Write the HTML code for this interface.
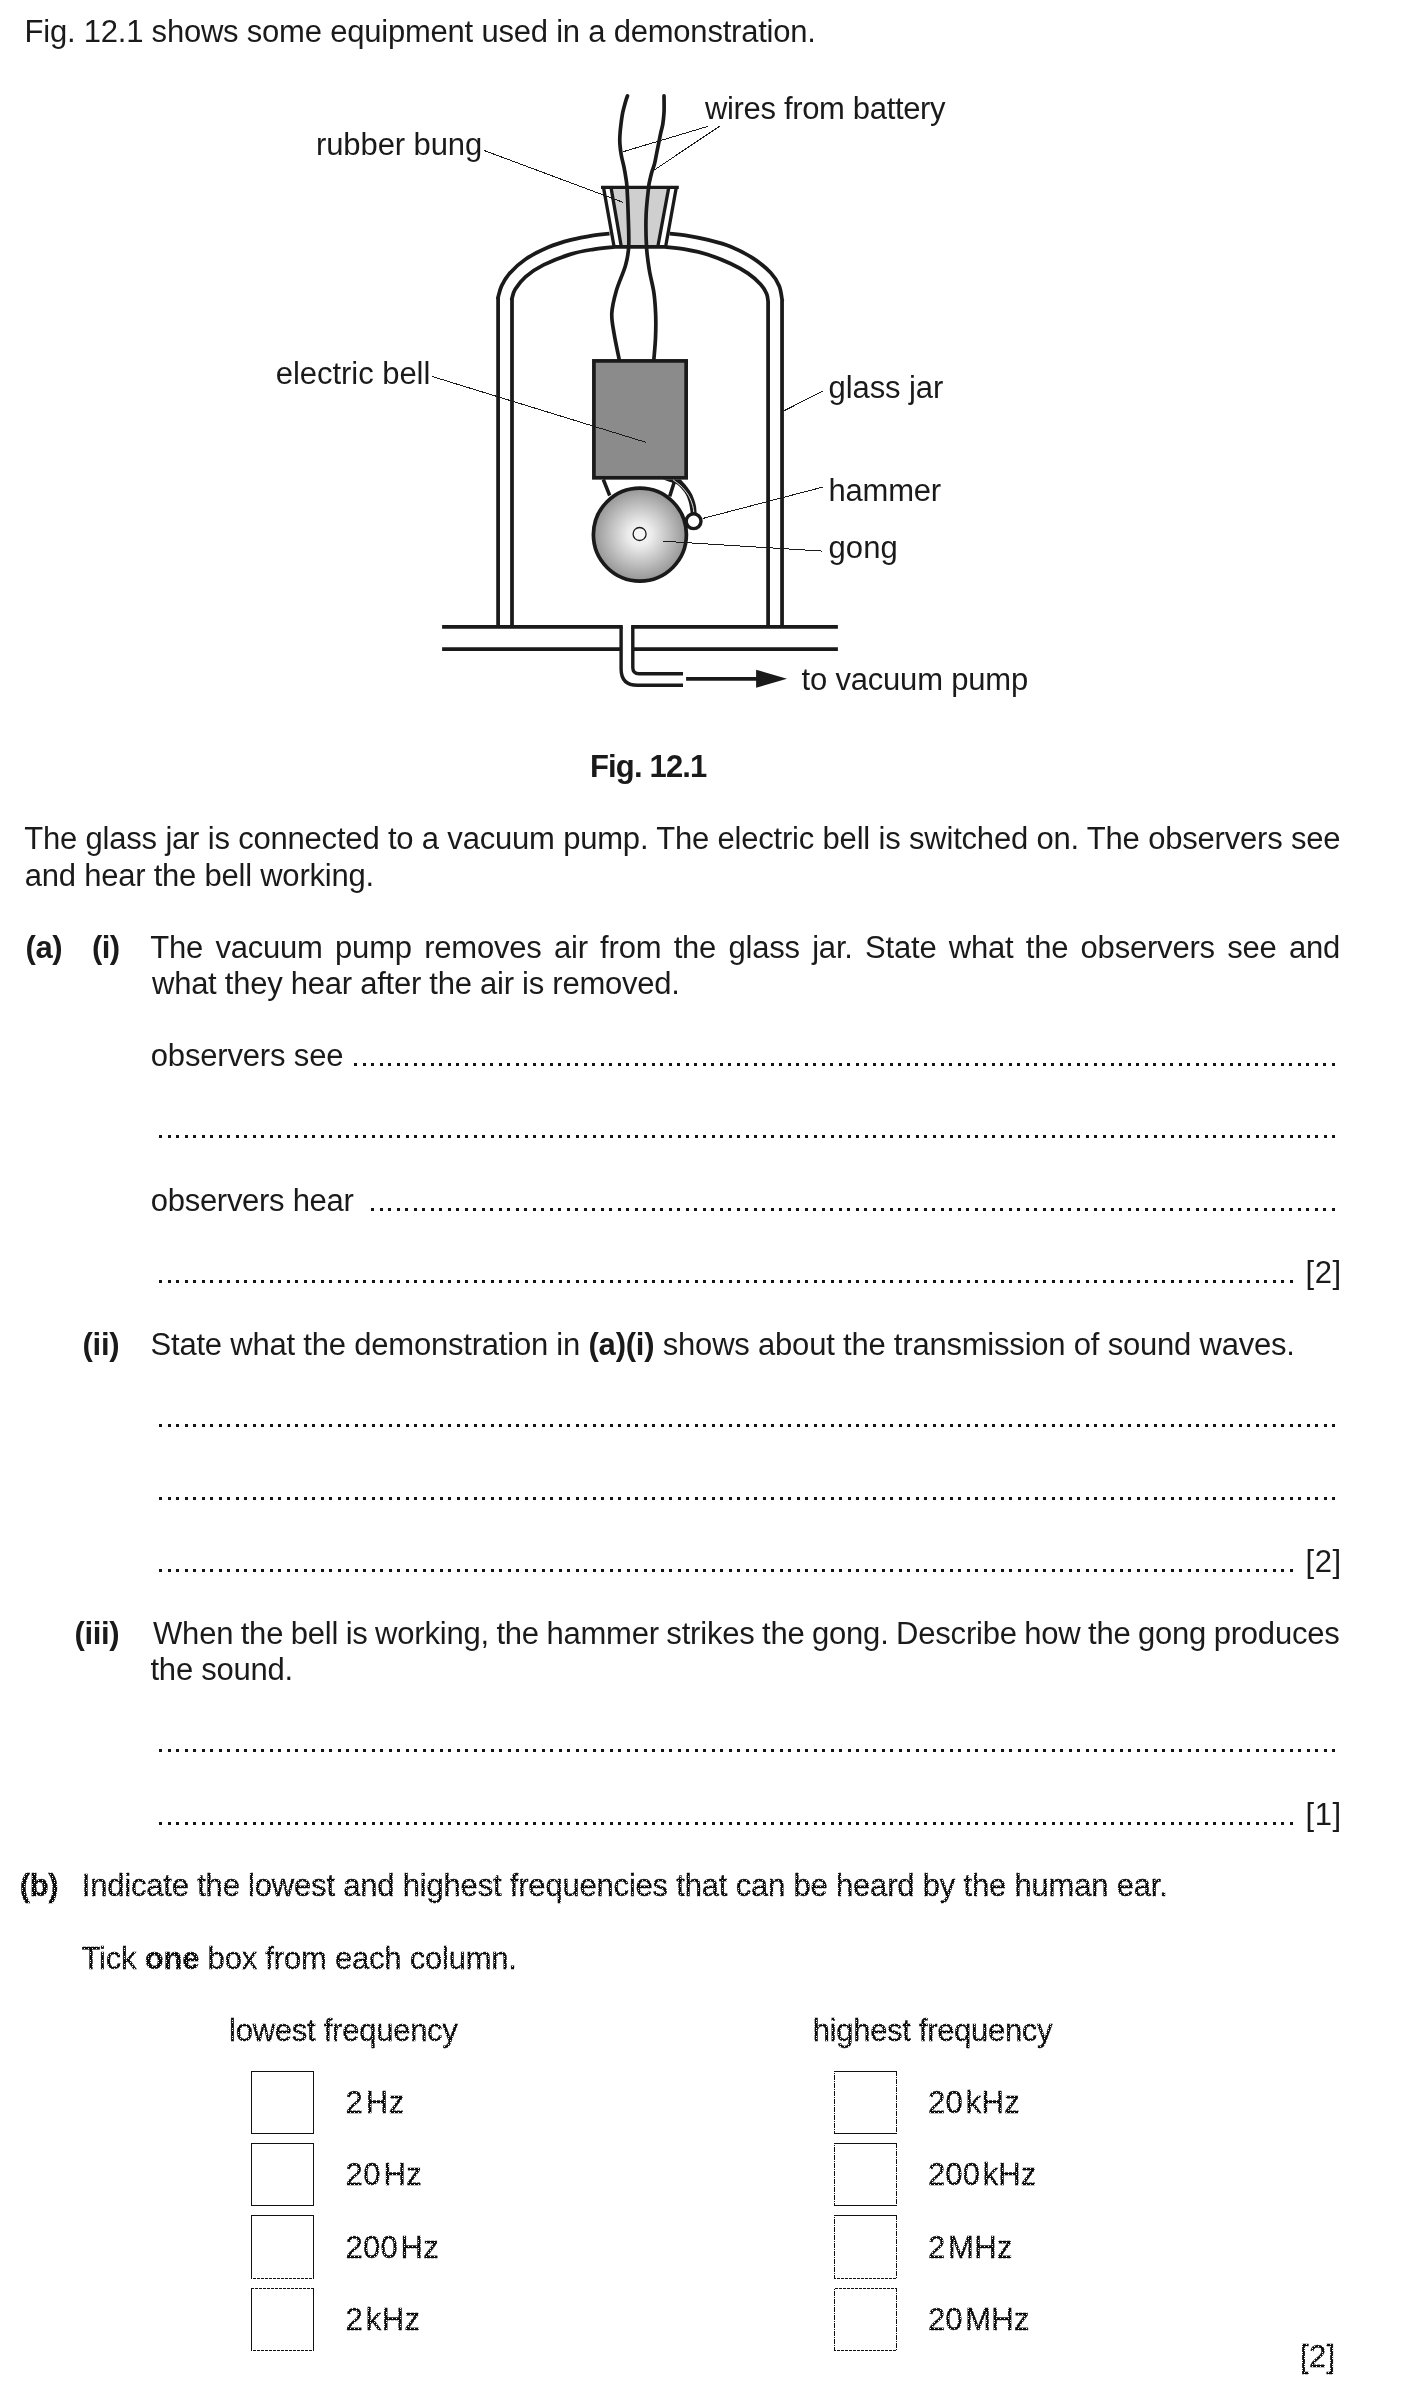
<!DOCTYPE html>
<html><head><meta charset="utf-8"><title>Fig. 12.1</title>
<style>
html,body{margin:0;padding:0;background:#fff;}
body{width:1408px;height:2391px;position:relative;overflow:hidden;font-family:"Liberation Sans",sans-serif;color:#1a1a1a;}
.l{position:absolute;white-space:pre;font-size:31px;line-height:36.0px;height:36.0px;margin:0;}
#txt{position:absolute;left:0;top:0;width:1408px;height:2391px;will-change:transform;}
.b,b{font-weight:bold;}
.g{color:#0d0d0d;-webkit-text-stroke:0.35px #0d0d0d;}
.ts{display:inline-block;width:2.6px;}
svg{position:absolute;left:0;top:0;}
.dl{position:absolute;height:3px;background:linear-gradient(90deg,#141414 0 3px,transparent 3px 9px,#141414 9px 12px,transparent 12px 17px);background-size:17px 3px;}
.bx{position:absolute;}
.bx i{position:absolute;display:block;}
.hs{left:0;width:100%;height:1px;background:#111;}
.vs{top:0;height:100%;width:1px;background:#111;}

</style></head><body>
<svg width="1408" height="760" viewBox="0 0 1408 760">
<defs><radialGradient id="gg" cx="50%" cy="50%" r="50%"><stop offset="0" stop-color="#fbfbfb"/><stop offset="0.25" stop-color="#ececec"/><stop offset="0.6" stop-color="#c4c4c4"/><stop offset="1" stop-color="#959595"/></radialGradient></defs>
<polygon points="611,187.4 668.8,187.4 657.8,246.7 621.3,246.7" fill="#cfcfcf"/>
<path d="M498.10,626.90 L498.10,297.30 C498.10,297.30 497.52,299.20 498.10,297.30 C498.68,295.40 499.70,289.88 501.60,285.90 C503.50,281.92 505.52,277.85 509.50,273.40 C513.48,268.95 519.05,263.55 525.50,259.20 C531.95,254.85 540.63,250.52 548.20,247.30 C555.77,244.08 563.33,241.90 570.90,239.90 C578.47,237.90 587.17,236.35 593.60,235.30 C600.03,234.25 606.85,233.88 609.50,233.60" fill="none" stroke="#1a1a1a" stroke-width="3.75"/>
<path d="M512.00,626.90 L512.00,298.40 C512.00,298.40 511.47,299.92 512.00,298.40 C512.53,296.88 512.95,292.90 515.20,289.30 C517.45,285.70 520.77,280.87 525.50,276.80 C530.23,272.73 536.03,268.68 543.60,264.90 C551.17,261.12 562.57,256.70 570.90,254.10 C579.23,251.50 586.40,250.50 593.60,249.30 C600.80,248.10 610.68,247.30 614.10,246.90" fill="none" stroke="#1a1a1a" stroke-width="3.75"/>
<path d="M782.05,626.90 L782.05,299.50 C782.05,299.50 782.52,301.77 782.05,299.50 C781.57,297.23 781.09,290.35 779.20,285.90 C777.31,281.45 774.97,277.35 770.70,272.80 C766.43,268.25 760.23,262.95 753.60,258.60 C746.97,254.25 738.47,249.82 730.90,246.70 C723.33,243.58 715.77,241.80 708.20,239.90 C700.63,238.00 691.93,236.35 685.50,235.30 C679.07,234.25 672.25,233.88 669.60,233.60" fill="none" stroke="#1a1a1a" stroke-width="3.75"/>
<path d="M768.10,626.90 L768.10,301.80 C768.10,301.80 768.33,303.12 768.10,301.80 C767.87,300.48 767.97,296.83 766.70,293.90 C765.43,290.97 763.62,287.62 760.50,284.20 C757.38,280.78 752.93,276.80 748.00,273.40 C743.07,270.00 737.53,266.92 730.90,263.80 C724.27,260.68 715.77,257.12 708.20,254.70 C700.63,252.28 692.60,250.60 685.50,249.30 C678.40,248.00 668.92,247.30 665.60,246.90" fill="none" stroke="#1a1a1a" stroke-width="3.75"/>
<path d="M613,246.9 L667,246.9" fill="none" stroke="#1a1a1a" stroke-width="3.7"/>
<path d="M601,187.4 L678.8,187.4 M603.5,187.4 L614.1,246.7 M611,187.4 L621.3,246.7 M668.8,187.4 L657.8,246.7 M676.3,187.4 L665.6,246.7" fill="none" stroke="#1a1a1a" stroke-width="3.3"/>
<path d="M627.50,95.90 C627.18,96.82 626.40,98.60 625.60,101.40 C624.80,104.20 623.47,108.92 622.70,112.70 C621.93,116.48 621.47,120.30 621.00,124.10 C620.53,127.90 620.08,132.18 619.90,135.50 C619.72,138.82 619.67,140.70 619.90,144.00 C620.13,147.30 620.63,151.52 621.30,155.30 C621.97,159.08 623.13,162.90 623.90,166.70 C624.67,170.50 625.38,174.65 625.90,178.10 C626.42,181.55 626.62,181.25 627.00,187.40 C627.38,193.55 627.92,205.12 628.20,215.00 C628.48,224.88 629.15,238.28 628.70,246.70 C628.25,255.12 627.55,258.20 625.50,265.50 C623.45,272.80 618.68,282.55 616.40,290.50 C614.12,298.45 612.18,306.02 611.80,313.20 C611.42,320.38 612.88,325.97 614.10,333.60 C615.32,341.23 618.27,354.77 619.10,359.00" fill="none" stroke="#1a1a1a" stroke-width="3.7" stroke-linecap="round"/>
<path d="M664.00,95.90 C664.02,97.08 664.10,100.20 664.10,103.00 C664.10,105.80 664.22,109.18 664.00,112.70 C663.78,116.22 663.33,120.78 662.80,124.10 C662.27,127.42 661.42,129.77 660.80,132.60 C660.18,135.43 659.77,137.78 659.10,141.10 C658.43,144.42 657.57,148.70 656.80,152.50 C656.03,156.30 655.35,160.58 654.50,163.90 C653.65,167.22 652.50,169.57 651.70,172.40 C650.90,175.23 650.22,178.40 649.70,180.90 C649.18,183.40 649.20,181.72 648.60,187.40 C648.00,193.08 646.45,205.12 646.10,215.00 C645.75,224.88 645.97,237.53 646.50,246.70 C647.03,255.87 648.07,262.33 649.30,270.00 C650.53,277.67 652.83,285.12 653.90,292.70 C654.97,300.28 655.43,307.92 655.70,315.50 C655.97,323.08 655.80,330.95 655.50,338.20 C655.20,345.45 654.17,355.53 653.90,359.00" fill="none" stroke="#1a1a1a" stroke-width="3.7" stroke-linecap="round"/>
<rect x="593.9" y="360.9" width="92.25" height="116.9" fill="#8b8b8b" stroke="#1a1a1a" stroke-width="3.7"/>
<path d="M603.3,479.5 L609.7,495.5 M674.6,481 L669.7,496.4" fill="none" stroke="#1a1a1a" stroke-width="3.5"/>
<path d="M680.80,479.50 C681.88,480.73 685.38,484.35 687.30,486.90 C689.22,489.45 690.90,491.82 692.30,494.80 C693.70,497.78 694.97,501.68 695.70,504.80 C696.43,507.92 696.53,512.05 696.70,513.50 L690.80,513.50 C690.47,511.63 689.80,505.75 688.80,502.30 C687.80,498.85 686.63,495.70 684.80,492.80 C682.97,489.90 679.87,486.58 677.80,484.90 C675.73,483.22 674.88,483.60 672.40,482.70 C669.92,481.80 664.48,480.03 662.90,479.50 Z" fill="#1a1a1a"/>
<path d="M673.10,479.90 C673.88,480.48 676.27,482.15 677.80,483.40 C679.33,484.65 680.80,485.83 682.30,487.40 C683.80,488.97 685.55,491.07 686.80,492.80 C688.05,494.53 688.97,496.13 689.80,497.80 C690.63,499.47 691.22,501.05 691.80,502.80 C692.38,504.55 692.97,506.60 693.30,508.30 C693.63,510.00 693.72,512.22 693.80,513.00" fill="none" stroke="#fff" stroke-width="0.9" />
<circle cx="639.9" cy="534.6" r="46.5" fill="url(#gg)" stroke="#1a1a1a" stroke-width="3.7"/>
<circle cx="639.6" cy="534" r="6.5" fill="#f6f6f6" stroke="#1a1a1a" stroke-width="1.3"/>
<circle cx="693.6" cy="521.2" r="7.4" fill="#fff" stroke="#1a1a1a" stroke-width="3.4"/>
<path d="M442.1,626.9 L622.8,626.9 M631.1,626.9 L837.9,626.9 M442.1,649 L621.1,649 M632.8,649 L837.9,649" fill="none" stroke="#1a1a1a" stroke-width="3.75"/>
<path d="M621.1,626.9 L621.1,669 Q621.1,685.3 637.5,685.3 L683,685.3 M632.8,626.9 L632.8,667.5 Q632.8,673.75 639,673.75 L683,673.75" fill="none" stroke="#1a1a1a" stroke-width="3.4"/>
<path d="M686.1,678.9 L760,678.9" stroke="#1a1a1a" stroke-width="3.7" fill="none"/>
<polygon points="756.1,669.8 787,678.75 756.1,687.7" fill="#1a1a1a"/>
<path d="M708.4,126.2 L623.2,151.7 M719.8,126.2 L654.5,169.8 M484.4,150.6 L623,202.3 M431.9,376.4 L645.8,442.3 M822.5,391.2 L783.6,411 M822.5,487.2 L702.6,518.5 M822.5,551.1 L662.8,541.2" fill="none" stroke="#1a1a1a" stroke-width="1" shape-rendering="crispEdges"/>
</svg>
<div id="txt">
<div class="l " id="t1" style="left:24.50px;top:14.00px;letter-spacing:-0.214px;">Fig. 12.1 shows some equipment used in a demonstration.</div>
<div class="l b" id="cap" style="left:590.00px;top:749.00px;letter-spacing:-0.844px;">Fig. 12.1</div>
<div class="l " id="p1" style="left:24.25px;top:821.00px;word-spacing:0.059px;letter-spacing:-0.2px;">The glass jar is connected to a vacuum pump. The electric bell is switched on. The observers see</div>
<div class="l " id="p2" style="left:24.75px;top:858.00px;letter-spacing:-0.228px;">and hear the bell working.</div>
<div class="l b" id="a" style="left:25.50px;top:930.00px;letter-spacing:-0.375px;">(a)</div>
<div class="l b" id="ai" style="left:92.00px;top:930.00px;letter-spacing:-0.625px;">(i)</div>
<div class="l " id="q1" style="left:150.25px;top:930.00px;word-spacing:3.914px;letter-spacing:-0.2px;">The vacuum pump removes air from the glass jar. State what the observers see and</div>
<div class="l " id="q2" style="left:152.00px;top:966.00px;letter-spacing:-0.250px;">what they hear after the air is removed.</div>
<div class="l " id="os" style="left:150.75px;top:1038.00px;letter-spacing:-0.167px;">observers see</div>
<div class="l " id="oh" style="left:150.75px;top:1183.00px;letter-spacing:-0.281px;">observers hear</div>
<div class="l " id="m1" style="left:1305.55px;top:1255.00px;letter-spacing:0.525px;">[2]</div>
<div class="l b" id="ii" style="left:82.50px;top:1327.00px;letter-spacing:-0.250px;">(ii)</div>
<div class="l " id="q3" style="left:150.50px;top:1327.00px;letter-spacing:-0.207px;">State what the demonstration in <b>(a)(i)</b> shows about the transmission of sound waves.</div>
<div class="l " id="m2" style="left:1305.55px;top:1544.00px;letter-spacing:0.525px;">[2]</div>
<div class="l b" id="iii" style="left:74.50px;top:1616.00px;letter-spacing:-0.375px;">(iii)</div>
<div class="l " id="q4" style="left:153.05px;top:1616.00px;word-spacing:-0.929px;letter-spacing:-0.2px;">When the bell is working, the hammer strikes the gong. Describe how the gong produces</div>
<div class="l " id="q5" style="left:150.50px;top:1652.00px;letter-spacing:-0.239px;">the sound.</div>
<div class="l " id="m3" style="left:1305.55px;top:1797.00px;letter-spacing:0.525px;">[1]</div>
<div class="l b g" id="b" style="left:19.75px;top:1868.00px;letter-spacing:-0.375px;">(b)</div>
<div class="l g" id="q6" style="left:81.75px;top:1868.00px;letter-spacing:-0.195px;">Indicate the lowest and highest frequencies that can be heard by the human ear.</div>
<div class="l g" id="q7" style="left:81.50px;top:1941.00px;letter-spacing:-0.212px;">Tick <b>one</b> box from each column.</div>
<div class="l g" id="lf" style="left:229.00px;top:2013.00px;letter-spacing:-0.250px;">lowest frequency</div>
<div class="l g" id="hf" style="left:812.80px;top:2013.00px;letter-spacing:-0.312px;">highest frequency</div>
<div class="l g" id="f1" style="left:345.50px;top:2085.00px;letter-spacing:0.500px;">2<span class="ts"></span>Hz</div>
<div class="l g" id="f2" style="left:345.50px;top:2157.00px;letter-spacing:0.417px;">20<span class="ts"></span>Hz</div>
<div class="l g" id="f3" style="left:345.50px;top:2230.00px;letter-spacing:0.250px;">200<span class="ts"></span>Hz</div>
<div class="l g" id="f4" style="left:345.50px;top:2302.00px;letter-spacing:0.417px;">2<span class="ts"></span>kHz</div>
<div class="l g" id="h1" style="left:927.90px;top:2085.00px;letter-spacing:0.375px;">20<span class="ts"></span>kHz</div>
<div class="l g" id="h2" style="left:927.90px;top:2157.00px;letter-spacing:0.150px;">200<span class="ts"></span>kHz</div>
<div class="l g" id="h3" style="left:927.90px;top:2230.00px;letter-spacing:0.333px;">2<span class="ts"></span>MHz</div>
<div class="l g" id="h4" style="left:927.90px;top:2302.00px;letter-spacing:0.188px;">20<span class="ts"></span>MHz</div>
<div class="l g" id="m4" style="left:1299.90px;top:2339.00px;letter-spacing:0.375px;">[2]</div>
<div class="l " id="l1" style="left:705.00px;top:91.00px;letter-spacing:-0.338px;">wires from battery</div>
<div class="l " id="l2" style="left:316.00px;top:127.00px;letter-spacing:-0.100px;">rubber bung</div>
<div class="l " id="l3" style="left:275.75px;top:356.00px;letter-spacing:-0.042px;">electric bell</div>
<div class="l " id="l4" style="left:828.55px;top:370.00px;letter-spacing:-0.094px;">glass jar</div>
<div class="l " id="l5" style="left:828.45px;top:473.00px;letter-spacing:-0.200px;">hammer</div>
<div class="l " id="l6" style="left:828.55px;top:530.00px;letter-spacing:0.083px;">gong</div>
<div class="l " id="l7" style="left:801.50px;top:662.00px;letter-spacing:-0.192px;">to vacuum pump</div>
</div>
<div class="dl" style="left:354px;top:1063px;width:981px"></div>
<div class="dl" style="left:159px;top:1135px;width:1176px"></div>
<div class="dl" style="left:371px;top:1208px;width:964px"></div>
<div class="dl" style="left:159px;top:1280px;width:1134px"></div>
<div class="dl" style="left:159px;top:1424px;width:1176px"></div>
<div class="dl" style="left:159px;top:1497px;width:1176px"></div>
<div class="dl" style="left:159px;top:1569px;width:1134px"></div>
<div class="dl" style="left:159px;top:1749px;width:1176px"></div>
<div class="dl" style="left:159px;top:1822px;width:1134px"></div>
<div class="bx" style="left:251px;top:2071px;width:63px;height:63px"><i class="hs" style="top:0"></i><i class="hs" style="bottom:0"></i><i class="vs" style="left:0"></i><i class="vs" style="right:0"></i></div>
<div class="bx" style="left:251px;top:2143px;width:63px;height:63px"><i class="hs" style="top:0"></i><i class="hs" style="bottom:0"></i><i class="vs" style="left:0"></i><i class="vs" style="right:0"></i></div>
<div class="bx" style="left:251px;top:2215px;width:63px;height:64px"><i class="hs" style="top:0"></i><i class="hs" style="bottom:0"></i><i class="vs" style="left:0"></i><i class="vs" style="right:0"></i></div>
<div class="bx" style="left:251px;top:2288px;width:63px;height:63px"><i class="hs" style="top:0"></i><i class="hs" style="bottom:0"></i><i class="vs" style="left:0"></i><i class="vs" style="right:0"></i></div>
<div class="bx" style="left:834px;top:2071px;width:63px;height:63px"><i class="hs" style="top:0"></i><i class="hs" style="bottom:0"></i><i class="vs" style="left:0"></i><i class="vs" style="right:0"></i></div>
<div class="bx" style="left:834px;top:2143px;width:63px;height:63px"><i class="hs" style="top:0"></i><i class="hs" style="bottom:0"></i><i class="vs" style="left:0"></i><i class="vs" style="right:0"></i></div>
<div class="bx" style="left:834px;top:2215px;width:63px;height:64px"><i class="hs" style="top:0"></i><i class="hs" style="bottom:0"></i><i class="vs" style="left:0"></i><i class="vs" style="right:0"></i></div>
<div class="bx" style="left:834px;top:2288px;width:63px;height:63px"><i class="hs" style="top:0"></i><i class="hs" style="bottom:0"></i><i class="vs" style="left:0"></i><i class="vs" style="right:0"></i></div>
<svg id="dz" width="1408" height="543" viewBox="0 1848 1408 543" style="top:1848px" shape-rendering="crispEdges"><defs><pattern id="dzp" x="0" y="0" width="4" height="8" patternUnits="userSpaceOnUse"><rect x="2" y="0" width="1" height="1" fill="#fff"/><rect x="2" y="2" width="1" height="1" fill="#fff"/><rect x="0" y="4" width="1" height="1" fill="#fff"/><rect x="0" y="6" width="1" height="1" fill="#fff"/></pattern></defs><rect x="0" y="1848" width="1408" height="543" fill="url(#dzp)"/></svg>
</body></html>
